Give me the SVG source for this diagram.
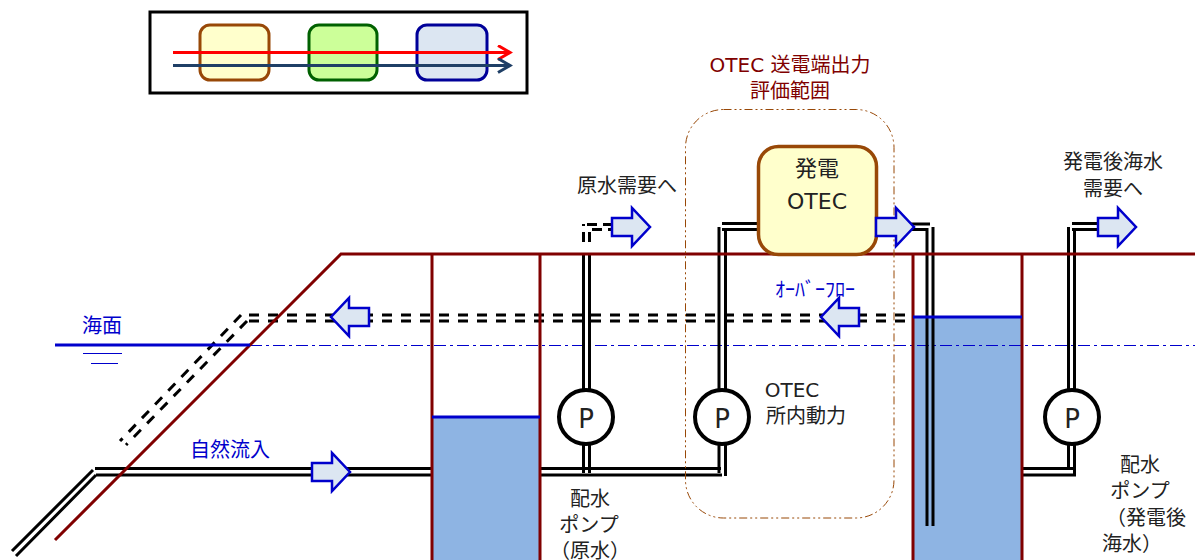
<svg xmlns="http://www.w3.org/2000/svg" width="1195" height="560" viewBox="0 0 1195 560">
<style>
text{font-family:"DejaVu Sans","Noto Sans CJK JP",sans-serif;font-size:20px;fill:#222;text-anchor:middle}
.ja{font-family:"Noto Sans CJK JP",sans-serif}
.p{fill:none;stroke:#000;stroke-width:3}
.d{fill:none;stroke:#000;stroke-width:3;stroke-dasharray:10 9}
.w{fill:none;stroke:#800000;stroke-width:3}
.lv{fill:none;stroke:#0000CC;stroke-width:3}
.water{fill:#8EB4E3}
.arr{fill:#DCE6F2;stroke:#0000CC;stroke-width:2.5}
.pump{fill:#fff;stroke:#000;stroke-width:4}
.box{stroke-width:3}
</style>
<defs>
<path id="ar" d="M0-9H20V-19L38 0L20 19V9H0Z"/>
<marker id="mr" markerUnits="userSpaceOnUse" markerWidth="18" markerHeight="18" refX="14" refY="8" orient="auto"><path d="M2 1L14 8L2 15" fill="none" stroke="#FF0000" stroke-width="3"/></marker>
<marker id="mb" markerUnits="userSpaceOnUse" markerWidth="18" markerHeight="18" refX="14" refY="8" orient="auto"><path d="M2 1L14 8L2 15" fill="none" stroke="#1F3F66" stroke-width="3"/></marker>
</defs>
<g id="legend">
<rect x="150" y="12" width="377" height="81" fill="#fff" stroke="#000" stroke-width="3"/>
<rect class="box" x="200" y="25" width="69" height="55" rx="10" fill="#FFFFCC" stroke="#984807"/>
<rect class="box" x="309" y="25" width="68" height="55" rx="10" fill="#CCFF99" stroke="#006100"/>
<rect class="box" x="417" y="25" width="70" height="55" rx="10" fill="#DCE6F2" stroke="#000099"/>
<path d="M173 52.500H510" fill="none" stroke="#FF0000" stroke-width="3" marker-end="url(#mr)"/>
<path d="M173 65.500H510" fill="none" stroke="#1F3F66" stroke-width="3" marker-end="url(#mb)"/>
</g>
<g id="water">
<rect class="water" x="432" y="417" width="108" height="143"/>
<rect class="water" x="913" y="317" width="109" height="243"/>
</g>
<g id="connectors">
<path d="M250 345.500H1195" fill="none" stroke="#0000CC" stroke-width="1" stroke-dasharray="12 4 3 4"/>
<path class="d" d="M905 315H241M905 321H247"/>
<path class="d" d="M241 315L120 441M247 321L126 445"/>
<path class="p" d="M93 470L12 551M96 475L16 556M95 468.500H432M96 475H432"/>
<path class="p" d="M540 468.500H721M540 475H722"/>
<path class="p" d="M583.500 444V473M589.500 444V473"/>
<path class="p" d="M583.500 254V392M589.500 254V392"/>
<path class="d" d="M583.500 242V224M589.500 242V226M587 224.500H612M592 229.500H612" style="stroke-dasharray:10 6"/>
<path class="p" d="M722 223.500H760M722 229.500H760M719 227V392M725.500 229V392M719 444V473M725.500 444V476"/>
<path class="p" d="M910 224H930M910 229.500H928M927 228V526M933 227V526"/>
<path class="p" d="M1072 223.500H1098M1072 229.500H1098M1068.500 227V392M1074.500 229V392M1068.500 444V469M1074.500 444V476M1022 468.500H1074M1022 475H1076"/>
</g>
<g id="ground">
<path class="w" d="M55 540L341 254H1195"/>
<path class="w" d="M432 254V560M540 254V560M913 254V560M1022 254V560"/>
<path class="lv" d="M55 345H250M432 417H540M913 317H1022"/>
<path d="M83 353.500H122M91 363.500H118" fill="none" stroke="#0000CC" stroke-width="1"/>
</g>
<g id="range">
<rect x="685.500" y="109.500" width="208.500" height="408.500" rx="38" fill="none" stroke="#984807" stroke-width="1" stroke-dasharray="8 3 2 3 2 3"/>
<text x="790" y="72" style="fill:#800000">OTEC 送電端出力</text>
<text x="790" y="98" style="fill:#800000">評価範囲</text>
</g>
<g id="otec">
<rect x="758.500" y="146.500" width="118" height="108" rx="20" fill="#FFFFCC" stroke="#984807" stroke-width="3.500"/>
<text x="817" y="176" style="font-size:22px">発電</text>
<text x="817" y="209" style="font-size:22px">OTEC</text>
</g>
<g id="pump1"><circle class="pump" cx="586" cy="417" r="27"/><text x="586" y="428" style="font-size:26px">P</text></g>
<g id="pump2"><circle class="pump" cx="722" cy="417" r="27"/><text x="722" y="428" style="font-size:26px">P</text></g>
<g id="pump3"><circle class="pump" cx="1072" cy="417" r="27"/><text x="1072" y="428" style="font-size:26px">P</text></g>
<g id="arrows">
<use href="#ar" class="arr" transform="translate(312 472)"/>
<use href="#ar" class="arr" transform="translate(612 227)"/>
<use href="#ar" class="arr" transform="translate(876 227)"/>
<use href="#ar" class="arr" transform="translate(1098 227)"/>
<use href="#ar" class="arr" transform="translate(369 317) scale(-1 1)"/>
<use href="#ar" class="arr" transform="translate(859 317) scale(-1 1)"/>
</g>
<g id="labels">
<text x="102" y="333" style="fill:#0000CC">海面</text>
<text x="230" y="457" style="fill:#0000CC">自然流入</text>
<text x="627" y="193">原水需要へ</text>
<text x="1113" y="169">発電後海水</text>
<text x="1113" y="196">需要へ</text>
<text x="815" y="297" style="fill:#0000CC">ｵｰﾊﾞｰﾌﾛｰ</text>
<text x="792" y="397">OTEC</text>
<text x="806" y="423">所内動力</text>
<text x="590" y="506">配水</text>
<text x="589" y="532">ポンプ</text>
<text x="590" y="558">（原水）</text>
<text x="1140" y="472">配水</text>
<text x="1140" y="498">ポンプ</text>
<text x="1146" y="525">（発電後</text>
<text x="1132" y="551">海水）</text>
</g>
</svg>
